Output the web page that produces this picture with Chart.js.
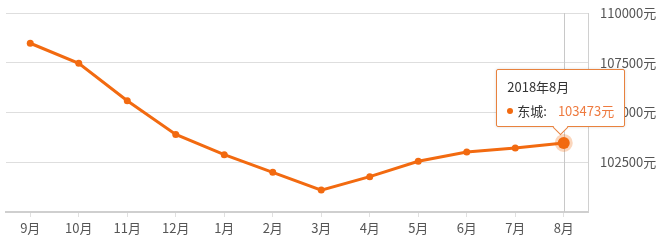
<!DOCTYPE html>
<html><head><meta charset="utf-8">
<script src="https://cdn.jsdelivr.net/npm/chart.js@4"></script>
<style>
html,body{margin:0;padding:0;background:#fff;}
#wrap{position:relative;width:661px;height:240px;}
#tip{position:absolute;background:#fff;border:1px solid #e8823e;border-radius:2px;box-shadow:0 0 3px rgba(0,0,0,0.15);font-family:"Microsoft YaHei","Noto Sans CJK SC",sans-serif;font-size:13px;color:#333;padding:5px 10px 3px 10px;white-space:nowrap;line-height:24px;display:none;box-sizing:border-box;}
#tip .dot{display:inline-block;width:6px;height:6px;border-radius:50%;background:#f26a10;margin-right:4px;vertical-align:middle;position:relative;top:-1px;}
#tip .val{color:#ee7a3f;margin-left:11px;}
#tip:after{content:"";position:absolute;left:50%;bottom:-7px;margin-left:-6px;width:10px;height:10px;background:#fff;border-right:1px solid #e8823e;border-bottom:1px solid #e8823e;transform:rotate(45deg);transform-origin:center;}
</style></head>
<body><div id="wrap"><canvas id="c" width="661" height="240"></canvas><div id="tip"></div></div>
<script>
const categories = ["9月","10月","11月","12月","1月","2月","3月","4月","5月","6月","7月","8月"];
const seriesName = "东城";
const values = [108480, 107470, 105590, 103900, 102880, 101995, 101100, 101775, 102550, 103015, 103216, 103473];
const yTicks = [102500, 105000, 107500, 110000];
const tooltipTitle = "2018年8月";
const activeIndex = 11;
const unit = "元";

const orange = "#f26a10";
const font = {family: '"Microsoft YaHei","Noto Sans CJK SC",sans-serif', size: 13};

const crosshair = {
  id: 'crosshair',
  beforeDatasetsDraw(chart) {
    const act = chart.getActiveElements();
    if (!act.length) return;
    const x = Math.round(act[0].element.x) + 0.5;
    const ctx = chart.ctx;
    ctx.save();
    ctx.strokeStyle = '#c8c8c8';
    ctx.lineWidth = 1;
    ctx.beginPath();
    ctx.moveTo(x, chart.chartArea.top);
    ctx.lineTo(x, chart.chartArea.bottom);
    ctx.stroke();
    ctx.restore();
  }
};

function externalTip(context) {
  const tip = document.getElementById('tip');
  const t = context.tooltip;
  if (!t || t.opacity === 0 || !t.dataPoints || !t.dataPoints.length) { tip.style.display = 'none'; return; }
  const dp = t.dataPoints[0];
  tip.innerHTML = '<div>' + tooltipTitle + '</div><div><span class="dot"></span>' + seriesName + ':<span class="val">' + dp.raw + unit + '</span></div>';
  tip.style.display = 'block';
  const el = dp.element;
  const w = tip.offsetWidth, h = tip.offsetHeight;
  tip.style.left = (el.x - w / 2 - 3) + 'px';
  tip.style.top = (el.y - 16 - h) + 'px';
}

const chart = new Chart(document.getElementById('c'), {
  type: 'line',
  data: {
    labels: categories,
    datasets: [{
      label: seriesName,
      data: values,
      borderColor: orange,
      backgroundColor: orange,
      borderWidth: 3,
      pointRadius: 3.5,
      pointBackgroundColor: orange,
      pointBorderWidth: 0,
      pointHoverRadius: 6,
      pointHoverBackgroundColor: orange,
      pointHoverBorderColor: 'rgba(242,106,16,0.28)',
      pointHoverBorderWidth: 6,
      tension: 0,
      fill: false
    }]
  },
  options: {
    responsive: false,
    animation: false,
    events: [],
    layout: {padding: {left: 0, right: 0, top: 13, bottom: 0}},
    plugins: {
      legend: {display: false},
      tooltip: {enabled: false, external: externalTip, mode: 'index', intersect: false}
    },
    scales: {
      x: {
        type: 'category',
        offset: true,
        afterFit(scale) { scale.height = 28; scale.paddingLeft = 0; scale.paddingRight = 0; },
        grid: {offset: false, drawOnChartArea: false, drawTicks: true, tickLength: 5, color: '#e0e0e0'},
        border: {display: true, color: '#cfcfcf', width: 2},
        ticks: {font: font, color: '#555', padding: 3, maxRotation: 0, autoSkip: false}
      },
      y: {
        position: 'right',
        min: 100000, max: 110000,
        afterBuildTicks(scale) { scale.ticks = yTicks.map(v => ({value: v})); },
        afterFit(scale) { scale.width = 73; scale.paddingTop = 0; scale.paddingBottom = 0; },
        grid: {color: '#dedede', drawTicks: false, lineWidth: 1},
        border: {display: true, color: '#d0d0d0'},
        ticks: {font: font, color: '#555', padding: 12, callback: (v) => v + unit}
      }
    }
  },
  plugins: [crosshair]
});

const pt = chart.getDatasetMeta(0).data[activeIndex];
chart.setActiveElements([{datasetIndex: 0, index: activeIndex}]);
chart.tooltip.setActiveElements([{datasetIndex: 0, index: activeIndex}], {x: pt.x, y: pt.y});
chart.update('none');
</script></body></html>
